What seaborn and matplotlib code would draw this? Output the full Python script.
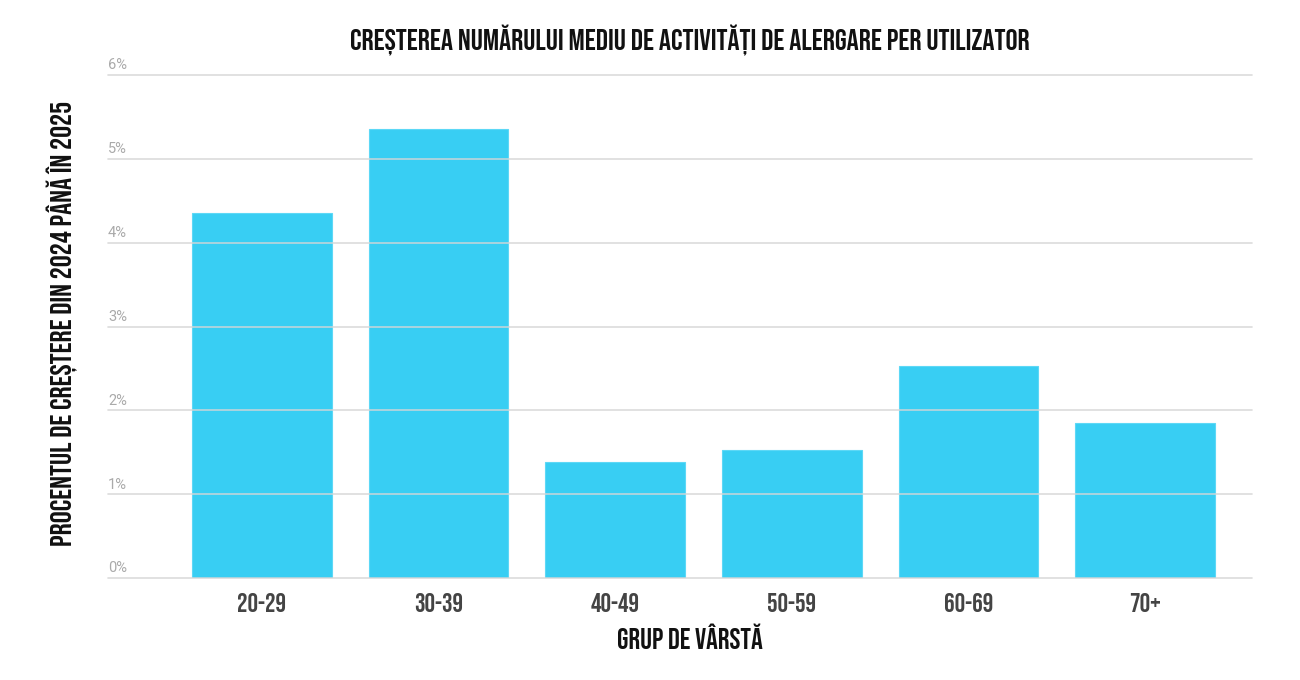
import pandas as pd
import matplotlib
matplotlib.use("Agg")
import matplotlib.pyplot as plt
import matplotlib.transforms as mtransforms
from matplotlib import font_manager
import seaborn as sns

# data
age_groups = ['20-29', '30-39', '40-49', '50-59', '60-69', '70+']
growth_pct = [4.35, 5.35, 1.38, 1.53, 2.53, 1.85]
y_ticks = [0, 1, 2, 3, 4, 5, 6]
y_tick_labels = ['0%', '1%', '2%', '3%', '4%', '5%', '6%']

title = 'CREȘTEREA NUMĂRULUI MEDIU DE ACTIVITĂȚI DE ALERGARE PER UTILIZATOR'
x_label = 'GRUP DE VÂRSTĂ'
y_label = 'PROCENTUL DE CREȘTERE DIN 2024 PÂNĂ ÎN 2025'

df = pd.DataFrame({'grup': age_groups, 'crestere': growth_pct})

# pick a narrow font if one is around, otherwise Roboto
installed = {f.name for f in font_manager.fontManager.ttflist}
head_font = 'Roboto'
for cand in ['Bebas Neue', 'Oswald', 'Roboto Condensed', 'Liberation Sans Narrow']:
    if cand in installed:
        head_font = cand
        break
narrow = [head_font, 'DejaVu Sans']

sns.set_theme(style='white')
plt.rcParams['font.family'] = narrow

fig = plt.figure(figsize=(13, 6.8), dpi=100)
ax = fig.add_axes([0.0831, 0.15, 0.88, 0.7397])

sns.barplot(data=df, x='grup', y='crestere', color='#38CEF3', saturation=1,
            width=0.79, edgecolor='#5dd8f6', linewidth=0.8, ax=ax, zorder=2)

ax.set_xlim(-0.87, 5.605)
ax.set_ylim(0, 6)
ax.set_yticks(y_ticks)
ax.set_yticklabels([])
ax.tick_params(axis='y', length=0)
ax.tick_params(axis='x', length=0, pad=11)
for t in ax.get_xticklabels():
    t.set_fontsize(19)
    t.set_fontweight('bold')
    t.set_color('#444444')
    t.set_family(narrow)

# gridlines drawn over the bars
for v in y_ticks:
    ax.axhline(v, color='#d6d6d6', linewidth=1.2, alpha=0.85, zorder=3, clip_on=False)

# y tick labels sit just above each gridline, inside the plot
trans = mtransforms.blended_transform_factory(ax.transAxes, ax.transData)
for v, lab in zip(y_ticks, y_tick_labels):
    ax.text(0.0, v + 0.03, lab, transform=trans, ha='left', va='bottom',
            fontsize=10.5, color='#aaaaaa', family=['Roboto', 'DejaVu Sans'])

sns.despine(ax=ax, left=True, bottom=True)
ax.set_xlabel('')
ax.set_ylabel('')

fig.text(0.531, 0.941, title, ha='center', va='center', fontsize=21.7,
         fontweight='bold', color='#111111', family=narrow)
fig.text(0.531, 0.065, x_label, ha='center', va='center', fontsize=21,
         fontweight='bold', color='#111111', family=narrow)
fig.text(0.048, 0.524, y_label, ha='center', va='center', rotation=90,
         fontsize=21.6, fontweight='bold', color='#111111', family=narrow)

fig.savefig('out.png', dpi=100)
